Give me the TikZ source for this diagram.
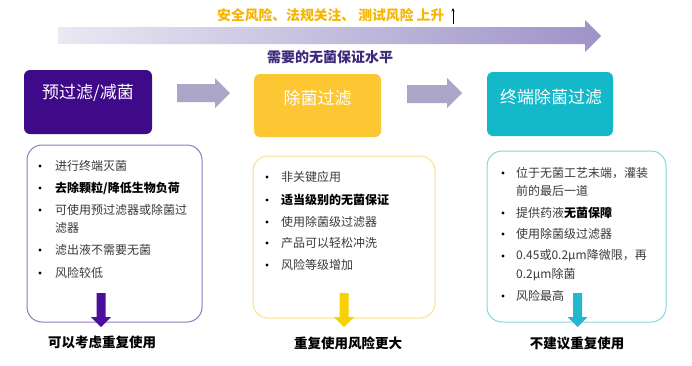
\documentclass[tikz,border=0pt]{standalone}
\usepackage{fontspec}
\setmainfont{Noto Sans CJK SC}
\usetikzlibrary{arrows.meta}
\definecolor{cpurple}{HTML}{3F0A8A}
\definecolor{cyellow}{HTML}{FDC633}
\definecolor{cteal}{HTML}{13B9C9}
\definecolor{carrow}{HTML}{AAA6C8}
\definecolor{cgradL}{HTML}{EAE8F3}
\definecolor{cgradR}{HTML}{9E92C8}
\definecolor{corange}{HTML}{F7B500}
\definecolor{cnavy}{HTML}{3D2A7A}
\definecolor{lpurple}{HTML}{9575C4}
\definecolor{lyellow}{HTML}{FAE08A}
\definecolor{lteal}{HTML}{86D6E2}
\definecolor{dpurple}{HTML}{4B0F9E}
\definecolor{dyellow}{HTML}{F8D200}
\definecolor{dteal}{HTML}{25B6D0}
\definecolor{ctext}{HTML}{3A3A3A}
\tikzset{
  headbox/.style={rounded corners=6pt, draw=none},
  headtxt/.style={text=white, font=\fontsize{17}{20}\selectfont, inner sep=0pt},
  listbox/.style={rounded corners=15pt, line width=1pt, fill=white},
  item/.style={anchor=west, inner sep=0pt, text=ctext, font=\fontsize{12}{14}\selectfont},
  bitem/.style={item, text=black, font=\fontsize{12}{14}\selectfont\bfseries},
  bul/.style={circle, fill=black, inner sep=0pt, minimum size=3.2pt},
  foot/.style={inner sep=0pt, text=black, font=\fontsize{13.5}{16}\selectfont\bfseries},
}
\begin{document}
\begin{tikzpicture}[x=1pt,y=-1pt]
\useasboundingbox (0,0) rectangle (692,365);
\fill[white] (0,0) rectangle (692,365);

% big gradient arrow
\shade[left color=cgradL, right color=cgradR]
  (58,27) -- (585,27) -- (585,20) -- (601,36) -- (585,52) -- (585,44) -- (58,44) -- cycle;

\node[inner sep=0pt, text=corange, font=\fontsize{13.8}{16}\selectfont\bfseries, anchor=west] (risk) at (217,15) {安全风险、法规关注、 测试风险 上升};
\coordinate (upS) at (453,24);
\coordinate (upE) at (453,8);
\draw[line width=0.8pt, -{Stealth[length=3.5pt,width=3pt]}] (upS) -- (upE);
\node[inner sep=0pt, text=cnavy, font=\fontsize{14}{16}\selectfont\bfseries] (level) at (330,57) {需要的无菌保证水平};

% header boxes
\fill[cpurple, headbox] (24,70) rectangle (152,134);
\node[headtxt] (h1) at (88,93) {预过滤/减菌};
\fill[cyellow, headbox] (254,74) rectangle (381,137);
\node[headtxt] (h2) at (317.5,98) {除菌过滤};
\fill[cteal, headbox] (487,72) rectangle (613,136);
\node[headtxt] (h3) at (551,97) {终端除菌过滤};

% flow block arrows
\fill[carrow] (177,84) -- (215,84) -- (215,78) -- (230,93) -- (215,108) -- (215,102) -- (177,102) -- cycle;
\fill[carrow] (407,85) -- (447,85) -- (447,78) -- (462,93) -- (447,108) -- (447,103) -- (407,103) -- cycle;

% list boxes
\draw[listbox, draw=lpurple] (27,145) rectangle (202,322);
\draw[listbox, draw=lyellow] (253,156) rectangle (435,318);
\draw[listbox, draw=lteal] (487,151) rectangle (666,322);

% box A
\node[bul] (ba1) at (40,166) {};
\node[item] (ta1) at (55,166) {进行终端灭菌};
\node[bul] (ba2) at (40,188) {};
\node[bitem] (ta2) at (55,188) {去除颗粒/降低生物负荷};
\node[bul] (ba3) at (40,210) {};
\node[item] (ta3) at (55,210) {可使用预过滤器或除菌过};
\node[item] (ta3b) at (55,228) {滤器};
\node[bul] (ba4) at (40,250) {};
\node[item] (ta4) at (55,250) {滤出液不需要无菌};
\node[bul] (ba5) at (40,273) {};
\node[item] (ta5) at (55,273) {风险较低};

% box B
\node[bul] (bb1) at (267,177) {};
\node[item] (tb1) at (281,177) {非关键应用};
\node[bul] (bb2) at (267,200) {};
\node[bitem] (tb2) at (281,200) {适当级别的无菌保证};
\node[bul] (bb3) at (267,222) {};
\node[item] (tb3) at (281,222) {使用除菌级过滤器};
\node[bul] (bb4) at (267,243) {};
\node[item] (tb4) at (281,243) {产品可以轻松冲洗};
\node[bul] (bb5) at (267,265) {};
\node[item] (tb5) at (281,265) {风险等级增加};

% box C
\node[bul] (bc1) at (503,173) {};
\node[item] (tc1) at (516,173) {位于无菌工艺末端，灌装};
\node[item] (tc1b) at (516,191) {前的最后一道};
\node[bul] (bc2) at (503,213) {};
\node[item] (tc2) at (516,213) {提供药液\textcolor{black}{\bfseries 无菌保障}};
\node[bul] (bc3) at (503,234) {};
\node[item] (tc3) at (516,234) {使用除菌级过滤器};
\node[bul] (bc4) at (503,256) {};
\node[item] (tc4) at (516,256) {0.45或0.2μm降微限，再};
\node[item] (tc4b) at (516,275) {0.2μm除菌};
\node[bul] (bc5) at (503,296) {};
\node[item] (tc5) at (516,296) {风险最高};

% down block arrows
\fill[dpurple] (96.5,293) -- (105.5,293) -- (105.5,317) -- (111,317) -- (101,327) -- (91,317) -- (96.5,317) -- cycle;
\fill[dyellow] (339.5,293) -- (348.5,293) -- (348.5,317) -- (354,317) -- (344,327) -- (334,317) -- (339.5,317) -- cycle;
\fill[dteal] (573,293) -- (582,293) -- (582,317) -- (587.5,317) -- (577.5,327) -- (567.5,317) -- (573,317) -- cycle;

\node[foot] (f1) at (102,342) {可以考虑重复使用};
\node[foot] (f2) at (348,343) {重复使用风险更大};
\node[foot] (f3) at (577,343) {不建议重复使用};
\end{tikzpicture}
\end{document}
